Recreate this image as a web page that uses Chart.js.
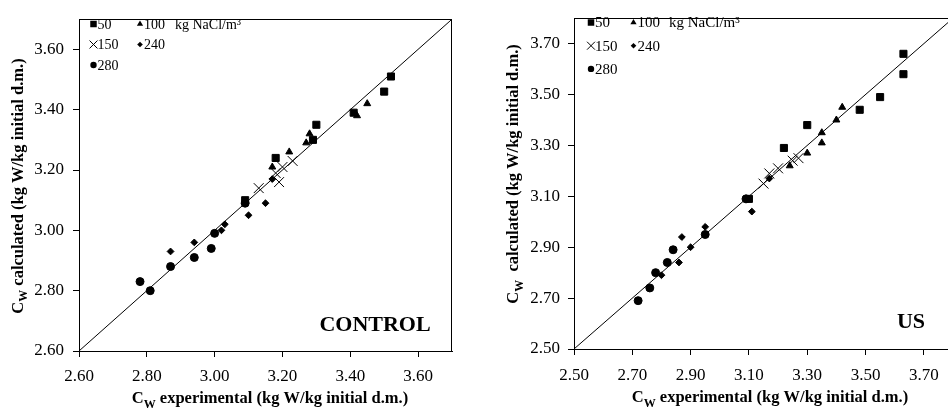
<!DOCTYPE html>
<html>
<head>
<meta charset="utf-8">
<style>
  html, body { margin: 0; padding: 0; background: #fff; overflow: hidden; width: 948px; height: 412px; }
  #wrapL { position: absolute; left: 0; top: 0; width: 474px; height: 412px; }
  #wrapR { position: absolute; left: 474px; top: 0; width: 490px; height: 412px; }
</style>
<script src="https://cdn.jsdelivr.net/npm/chart.js@4.4.0/dist/chart.umd.min.js"></script>
</head>
<body>
<div id="wrapL"><canvas id="control" width="474" height="412"></canvas></div>
<div id="wrapR"><canvas id="us" width="490" height="412"></canvas></div>
<script>
// NaCl concentrations, kg NaCl/m3
var concLabels = ['50', '100', '150', '240', '280'];

// CONTROL: Cw experimental (x) vs Cw calculated (y)
var ctrl50x = [3.52, 3.50, 3.41, 3.30, 3.29, 3.18, 3.09];
var ctrl50y = [3.51, 3.46, 3.39, 3.35, 3.30, 3.24, 3.10];
var ctrl100x = [3.45, 3.42, 3.28, 3.27, 3.22, 3.17];
var ctrl100y = [3.42, 3.38, 3.32, 3.29, 3.26, 3.21];
var ctrl150x = [3.13, 3.18, 3.19, 3.20, 3.23];
var ctrl150y = [3.14, 3.19, 3.16, 3.21, 3.23];
var ctrl240x = [2.87, 2.94, 3.03, 3.02, 3.10, 3.15, 3.17];
var ctrl240y = [2.93, 2.96, 3.02, 3.00, 3.05, 3.09, 3.17];
var ctrl280x = [2.78, 2.81, 2.87, 2.94, 2.99, 3.00, 3.09];
var ctrl280y = [2.83, 2.80, 2.88, 2.91, 2.94, 2.99, 3.09];

// US: Cw experimental (x) vs Cw calculated (y)
var us50x = [3.63, 3.63, 3.55, 3.48, 3.30, 3.22, 3.10];
var us50y = [3.66, 3.58, 3.49, 3.44, 3.38, 3.29, 3.09];
var us100x = [3.42, 3.40, 3.35, 3.35, 3.30, 3.24];
var us100y = [3.45, 3.40, 3.35, 3.31, 3.27, 3.22];
var us150x = [3.15, 3.17, 3.20, 3.25, 3.27];
var us150y = [3.15, 3.19, 3.21, 3.24, 3.25];
var us240x = [3.17, 3.11, 2.95, 2.87, 2.90, 2.86, 2.80];
var us240y = [3.17, 3.04, 2.98, 2.94, 2.90, 2.84, 2.79];
var us280x = [3.09, 2.95, 2.84, 2.82, 2.78, 2.76, 2.72];
var us280y = [3.09, 2.95, 2.89, 2.84, 2.80, 2.74, 2.69];

// axis ranges (also the ends of the 1:1 line) and tick values
var ctrlRange = [2.6, 3.7];
var usRange = [2.5, 3.8];
var ctrlTicks = [2.6, 2.8, 3.0, 3.2, 3.4, 3.6];
var usTicks = [2.5, 2.7, 2.9, 3.1, 3.3, 3.5, 3.7];

var serif = "'Liberation Serif', 'Times New Roman', serif";
var marks = [
  { style: 'rect', r: 5.0, lr: 4.6 },
  { style: 'triangle', r: 4.0, lr: 3.6 },
  { style: 'crossRot', r: 7.0, lr: 5.6 },
  { style: 'rectRot', r: 3.4, lr: 2.8 },
  { style: 'circle', r: 4.0, lr: 3.2 }
];

function pts(xs, ys) {
  return xs.map(function (x, i) { return { x: x, y: ys[i] }; });
}

function buildDatasets(groups, range) {
  var ds = groups.map(function (g, i) {
    return {
      label: concLabels[i],
      data: pts(g[0], g[1]),
      pointStyle: marks[i].style,
      pointRadius: marks[i].r,
      backgroundColor: '#000',
      borderColor: '#000',
      borderWidth: 1,
      showLine: false
    };
  });
  ds.push({
    type: 'line', label: '1:1', data: pts(range, range),
    borderColor: '#000', borderWidth: 1, pointRadius: 0, showLine: true, fill: false
  });
  return ds;
}

function marker(ctx, style, x, y, r) {
  ctx.beginPath();
  if (style === 'rect') {
    var s = r * Math.SQRT1_2;
    ctx.rect(x - s, y - s, 2 * s, 2 * s);
    ctx.fill();
  } else if (style === 'circle') {
    ctx.arc(x, y, r, 0, Math.PI * 2);
    ctx.fill();
  } else if (style === 'triangle') {
    ctx.moveTo(x, y - r);
    ctx.lineTo(x + r * 0.866, y + r * 0.5);
    ctx.lineTo(x - r * 0.866, y + r * 0.5);
    ctx.closePath();
    ctx.fill();
  } else if (style === 'rectRot') {
    ctx.moveTo(x - r, y);
    ctx.lineTo(x, y - r);
    ctx.lineTo(x + r, y);
    ctx.lineTo(x, y + r);
    ctx.closePath();
    ctx.fill();
  } else {
    var c = r * Math.SQRT1_2;
    ctx.moveTo(x - c, y - c); ctx.lineTo(x + c, y + c);
    ctx.moveTo(x + c, y - c); ctx.lineTo(x - c, y + c);
    ctx.stroke();
  }
}

// "C" + subscript "W" + rest of title, centred on (x, y baseline)
function subTitle(ctx, x, y, rest, size, rotate) {
  ctx.save();
  ctx.translate(x, y);
  if (rotate) ctx.rotate(-Math.PI / 2);
  ctx.fillStyle = '#000';
  ctx.textBaseline = 'alphabetic';
  ctx.textAlign = 'left';
  var big = 'bold ' + size + 'px ' + serif;
  var small = 'bold ' + Math.round(size * 0.72) + 'px ' + serif;
  ctx.font = big;
  var wC = ctx.measureText('C').width, wR = ctx.measureText(rest).width;
  ctx.font = small;
  var wW = ctx.measureText('W').width;
  var sx = -(wC + wW + wR) / 2;
  ctx.font = big; ctx.fillText('C', sx, 0);
  ctx.font = small; ctx.fillText('W', sx + wC, size * 0.28);
  ctx.font = big; ctx.fillText(rest, sx + wC + wW, 0);
  ctx.restore();
}

var panelPlugin = {
  id: 'panel',
  afterDraw: function (chart, args, o) {
    var ctx = chart.ctx, ca = chart.chartArea;
    ctx.save();
    // frame around the plot
    ctx.strokeStyle = '#000';
    ctx.lineWidth = 1;
    ctx.strokeRect(Math.round(ca.left) + 0.5, Math.round(ca.top) + 0.5,
      Math.round(ca.right - ca.left) - 1, Math.round(ca.bottom - ca.top));
    // legend
    var L = o.legend;
    ctx.fillStyle = '#000';
    ctx.strokeStyle = '#000';
    ctx.font = L.size + 'px ' + serif;
    ctx.textBaseline = 'middle';
    ctx.textAlign = 'left';
    var cells = [[0, 0], [1, 0], [0, 1], [1, 1], [0, 2]];
    cells.forEach(function (c, i) {
      var mx = L.x + c[0] * L.dx, my = L.y + c[1] * L.dy;
      marker(ctx, marks[i].style, mx, my, marks[i].lr);
      ctx.fillText(concLabels[i], mx + L.gap, my + 1);
    });
    ctx.fillText('kg NaCl/m\u00B3', L.unitX, L.y + 1);
    // panel name
    ctx.font = 'bold 22px ' + serif;
    ctx.textAlign = 'center';
    ctx.textBaseline = 'alphabetic';
    ctx.fillText(o.name.text, o.name.x, o.name.y);
    ctx.restore();
    subTitle(ctx, o.xTitle.x, o.xTitle.y, ' experimental (kg W/kg initial d.m.)', 16.5, false);
    subTitle(ctx, o.yTitle.x, o.yTitle.y, o.yTitle.text, 16.5, true);
  }
};

function axis(range, tickVals, pad, fit) {
  return {
    type: 'linear', min: range[0], max: range[1],
    afterBuildTicks: function (s) {
      s.ticks = tickVals.map(function (v) { return { value: v }; });
    },
    ticks: {
      autoSkip: false, maxRotation: 0, color: '#000', padding: pad,
      font: { family: serif, size: 17 },
      callback: function (v) { return Number(v).toFixed(2); }
    },
    grid: { drawOnChartArea: false, drawTicks: true, tickLength: 6, color: '#000', lineWidth: 1 },
    border: { display: true, color: '#000', width: 1 },
    afterFit: fit
  };
}

function makeChart(id, groups, range, tickVals, p) {
  return new Chart(document.getElementById(id), {
    type: 'scatter',
    data: { datasets: buildDatasets(groups, range) },
    options: {
      responsive: false,
      animation: false,
      layout: { padding: { left: 0, top: p.top, right: p.right, bottom: 0 } },
      scales: {
        x: axis(range, tickVals, p.xPad, function (s) { s.height = p.xh; }),
        y: axis(range, tickVals, p.yPad, function (s) { s.width = p.yw; })
      },
      plugins: {
        legend: { display: false },
        tooltip: { enabled: false },
        panel: p.panel
      }
    },
    plugins: [panelPlugin]
  });
}

makeChart('control',
  [[ctrl50x, ctrl50y], [ctrl100x, ctrl100y], [ctrl150x, ctrl150y], [ctrl240x, ctrl240y], [ctrl280x, ctrl280y]],
  ctrlRange, ctrlTicks,
  {
    top: 5, right: 22, xh: 61, yw: 79, xPad: 9, yPad: 9,
    panel: {
      legend: { x: 93.5, y: 24, dx: 46.5, dy: 20.5, gap: 4, unitX: 175, size: 14 },
      name: { text: 'CONTROL', x: 375, y: 331 },
      xTitle: { x: 270, y: 403 },
      yTitle: { x: 22.5, y: 186, text: ' calculated (kg W/kg initial d.m.)' }
    }
  });

makeChart('us',
  [[us50x, us50y], [us100x, us100y], [us150x, us150y], [us240x, us240y], [us280x, us280y]],
  usRange, usTicks,
  {
    top: 6, right: 11, xh: 63, yw: 100, xPad: 10, yPad: 8,
    panel: {
      legend: { x: 117, y: 22.5, dx: 42.5, dy: 23.2, gap: 4, unitX: 195, size: 15 },
      name: { text: 'US', x: 437, y: 328 },
      xTitle: { x: 296, y: 402 },
      yTitle: { x: 44, y: 174, text: '  calculated (kg W/kg initial d.m.)' }
    }
  });
</script>
</body>
</html>
